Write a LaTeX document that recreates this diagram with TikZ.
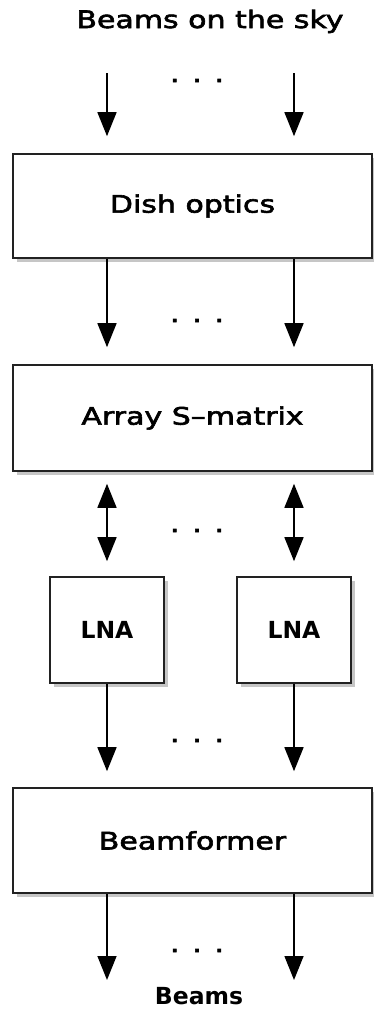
\documentclass[tikz,border=0pt]{standalone}
\usepackage{fontspec}
\setmainfont{DejaVu Sans}[FakeStretch=1.25, FakeBold=2.5]
\newfontfamily\lnafont{DejaVu Sans}
\usepackage{tikz}
\usetikzlibrary{arrows.meta, shadows, positioning, calc}
\definecolor{boxline}{HTML}{222222}

\begin{document}
\begin{tikzpicture}[x=1pt, y=-1pt,
    block/.style={draw=boxline, line width=1.6pt, fill=white, inner sep=0pt,
      drop shadow={shadow xshift=3.5pt, shadow yshift=-3.5pt, opacity=0.45},
      font=\fontsize{24}{28}\selectfont},
    flow/.style={line width=1.5pt, -{Triangle[width=19pt, length=24pt]}},
    flowboth/.style={line width=1.5pt, {Triangle[width=19pt, length=24pt]}-{Triangle[width=19pt, length=24pt]}},
    dots/.style={font=\fontsize{24}{28}\selectfont, anchor=base}]
  \useasboundingbox (0,0) rectangle (374,1009);
  % Cielo
  \node[anchor=base, font=\fontsize{24}{28}\selectfont] (sky) at (210,28) {Beams on the sky};
  \coordinate (skyL) at (107,73);
  \coordinate (skyR) at (294,73);
  % Bloques principales
  \node[block, minimum width=359pt, minimum height=104pt] (dish) at (192.5,206) {Dish optics};
  \node[block, minimum width=359pt, minimum height=106pt] (array) at (192.5,418) {Array S--matrix};
  \node[block, minimum width=114pt, minimum height=106pt, font=\lnafont\bfseries\fontsize{23.5}{27}\selectfont] (lnaL) at (107,630) {LNA};
  \node[block, minimum width=114pt, minimum height=106pt, font=\lnafont\bfseries\fontsize{23.5}{27}\selectfont] (lnaR) at (294,630) {LNA};
  \node[block, minimum width=359pt, minimum height=105pt] (beamf) at (192.5,840.5) {Beamformer};
  % Salida
  \coordinate (outL) at (107,980);
  \coordinate (outR) at (294,980);
  \node[anchor=base, font=\lnafont\bfseries\fontsize{23.5}{27}\selectfont] (beams) at (199,1004) {Beams};
  % Flechas
  \draw[flow, shorten >=17pt] (skyL) -- (skyL |- dish.north);
  \draw[flow, shorten >=17pt] (skyR) -- (skyR |- dish.north);
  \draw[flow, shorten >=17pt] (dish.south -| skyL) -- (array.north -| skyL);
  \draw[flow, shorten >=17pt] (dish.south -| skyR) -- (array.north -| skyR);
  \draw[flowboth, shorten <=12pt, shorten >=15pt] (array.south -| lnaL) -- (lnaL.north);
  \draw[flowboth, shorten <=12pt, shorten >=15pt] (array.south -| lnaR) -- (lnaR.north);
  \draw[flow, shorten >=16pt] (lnaL.south) -- (beamf.north -| lnaL);
  \draw[flow, shorten >=16pt] (lnaR.south) -- (beamf.north -| lnaR);
  \draw[flow] (beamf.south -| outL) -- (outL);
  \draw[flow] (beamf.south -| outR) -- (outR);
  % Puntos suspensivos
  \foreach \y/\n in {82/dotsA, 322/dotsB, 532/dotsC, 742/dotsD, 952/dotsE}
    \node[dots] (\n) at (197,\y) {. . .};
\end{tikzpicture}
\end{document}
